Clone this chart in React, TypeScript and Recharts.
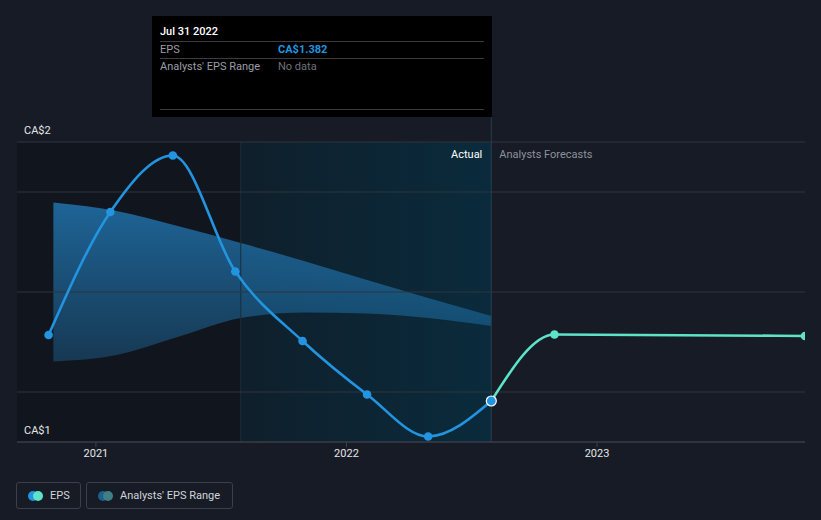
import { ComposedChart, Line, Area, XAxis, YAxis, ReferenceLine, ReferenceArea } from 'recharts'

// reported EPS (CA$)
const epsDates = ['2020-10-24', '2021-01-22', '2021-04-23', '2021-07-23', '2021-10-29', '2022-01-31', '2022-04-30', '2022-07-31']
const epsValues = [1.514, 1.76, 1.873, 1.641, 1.502, 1.395, 1.311, 1.382]

// analysts' forecast
const forecastDates = ['2022-07-31', '2022-10-31', '2023-10-31']
const forecastValues = [1.382, 1.515, 1.512]

// analysts' EPS range (past estimates)
const rangeDates = ['2020-10-31', '2021-01-31', '2021-04-30', '2021-07-31', '2021-10-31', '2022-01-31', '2022-04-30', '2022-07-31']
const rangeLow = [1.461, 1.474, 1.51, 1.548, 1.559, 1.557, 1.548, 1.532]
const rangeHigh = [1.779, 1.762, 1.732, 1.698, 1.662, 1.624, 1.588, 1.552]

const yearTicks = ['2021-01-01', '2022-01-01', '2023-01-01']
const gridValues = [1.4, 1.6, 1.8]
const yLabelValues = [1.3, 1.9]
const xDomain = ['2020-09-08', '2023-10-31']
const yDomain = [1.3, 1.9]
const actualStart = '2021-07-31'
const hoverDate = '2022-07-31'

const toTime = (s: string) => Date.parse(s)

const epsData = epsDates.map((d, i) => ({ t: toTime(d), eps: epsValues[i] }))
const forecastData = forecastDates.map((d, i) => ({ t: toTime(d), eps: forecastValues[i] }))
const rangeData = rangeDates.map((d, i) => ({ t: toTime(d), range: [rangeLow[i], rangeHigh[i]] }))

const BLUE = '#2394df'
const TEAL = '#5ee3c9'
const FONT = 'Roboto, "Open Sans", sans-serif'

const EpsDot = (props: any) => {
  const { cx, cy, index } = props
  if (cx == null || cy == null) return null
  const last = index === epsData.length - 1
  return (
    <circle
      key={`d-${index}`}
      cx={cx}
      cy={cy}
      r={last ? 5 : 4.3}
      fill={BLUE}
      stroke={last ? '#ffffff' : 'none'}
      strokeWidth={last ? 1.2 : 0}
    />
  )
}

const makeYLabel = (value: number) => (props: any) => {
  const vb = props.viewBox || { x: 0, y: 0 }
  return (
    <text x={vb.x + 7} y={vb.y - 8} fill="#e6e6e6" fontSize={11} fontFamily={FONT}>
      {`CA$${Math.round(value)}`}
    </text>
  )
}

const SplitLabel = (props: any) => {
  const vb = props.viewBox || { x: 0, y: 0 }
  return (
    <g fontFamily={FONT} fontSize={11}>
      <text x={vb.x - 9} y={vb.y + 16} textAnchor="end" fill="#ffffff">Actual</text>
      <text x={vb.x + 8} y={vb.y + 16} fill="#8d9299">Analysts Forecasts</text>
    </g>
  )
}

const CursorLine = (props: any) => {
  const top = Math.min(props.y1, props.y2)
  const bottom = Math.max(props.y1, props.y2)
  return <line x1={props.x1} x2={props.x2} y1={top - 25} y2={bottom} stroke="#263d4e" strokeWidth={1} />
}

const rowLabel = { width: 118, color: '#9a9ea4' }

export default function App() {
  return (
    <div style={{ position: 'relative', width: 821, height: 520, background: '#161b26', fontFamily: FONT, overflow: 'hidden' }}>
      <style>{'body{margin:0;}'}</style>
      <ComposedChart width={821} height={520} margin={{ top: 142, right: 16, bottom: 48, left: 17 }}>
        <defs>
          <linearGradient id="actualBg" x1="0" y1="0" x2="1" y2="0">
            <stop offset="0%" stopColor="#0f1f2b" />
            <stop offset="100%" stopColor="#0a2b3c" />
          </linearGradient>
          <linearGradient id="rangeFill" x1="0" y1="0" x2="0" y2="1">
            <stop offset="0%" stopColor="#2178b5" stopOpacity={0.8} />
            <stop offset="100%" stopColor="#2178b5" stopOpacity={0.35} />
          </linearGradient>
        </defs>
        <XAxis
          dataKey="t"
          type="number"
          scale="time"
          domain={xDomain.map(toTime)}
          ticks={yearTicks.map(toTime)}
          tickFormatter={(v: number) => String(new Date(v).getUTCFullYear())}
          allowDataOverflow
          height={30}
          stroke="#3d434c"
          tickSize={5}
          tick={{ fill: '#e6e6e6', fontSize: 11, fontFamily: FONT }}
        />
        <YAxis type="number" domain={yDomain} hide />
        <ReferenceArea x1={toTime(xDomain[0])} x2={toTime(actualStart)} fill="#11161e" fillOpacity={1} ifOverflow="visible" />
        <ReferenceArea x1={toTime(actualStart)} x2={toTime(hoverDate)} fill="url(#actualBg)" fillOpacity={1} ifOverflow="visible" />
        <ReferenceLine x={toTime(actualStart)} stroke="#1a2d3a" />
        {gridValues.map((v) => (
          <ReferenceLine key={v} y={v} stroke="#2e343e" />
        ))}
        {yLabelValues.map((v) => (
          <ReferenceLine key={`l-${v}`} y={v} stroke="#2e343e" ifOverflow="visible" label={makeYLabel(v)} />
        ))}
        <Area
          data={rangeData}
          dataKey="range"
          type="monotone"
          stroke="none"
          fill="url(#rangeFill)"
          fillOpacity={1}
          isAnimationActive={false}
          dot={false}
          activeDot={false}
        />
        <ReferenceLine x={toTime(hoverDate)} shape={<CursorLine />} label={<SplitLabel />} ifOverflow="visible" />
        <Line
          data={forecastData}
          dataKey="eps"
          type="monotone"
          stroke={TEAL}
          strokeWidth={2.6}
          dot={{ r: 4.3, fill: TEAL, stroke: 'none' }}
          activeDot={false}
          isAnimationActive={false}
        />
        <Line
          data={epsData}
          dataKey="eps"
          type="monotone"
          stroke={BLUE}
          strokeWidth={2.6}
          dot={<EpsDot />}
          activeDot={false}
          isAnimationActive={false}
        />
      </ComposedChart>

      {/* hover tooltip */}
      <div style={{ position: 'absolute', left: 152, top: 16, width: 340, height: 101, background: '#000', boxSizing: 'border-box', padding: '0 8px', fontSize: 11 }}>
        <div style={{ paddingTop: 9, height: 16, lineHeight: '14px', color: '#fff', fontWeight: 500, borderBottom: '1px solid #3c3c3c' }}>Jul 31 2022</div>
        <div style={{ display: 'flex', height: 16, lineHeight: '16px', borderBottom: '1px solid #3c3c3c' }}>
          <span style={rowLabel}>EPS</span>
          <span style={{ color: BLUE, fontWeight: 700 }}>CA$1.382</span>
        </div>
        <div style={{ display: 'flex', height: 16, lineHeight: '16px' }}>
          <span style={rowLabel}>Analysts' EPS Range</span>
          <span style={{ color: '#6f7379' }}>No data</span>
        </div>
        <div style={{ height: 34, borderBottom: '1px solid #3c3c3c' }} />
      </div>

      {/* legend */}
      <div style={{ position: 'absolute', left: 16, top: 482, display: 'flex', gap: 5, fontSize: 11, color: '#d2d4d7' }}>
        <div style={{ display: 'flex', alignItems: 'center', height: 25, width: 63, border: '1px solid #3a4049', borderRadius: 3 }}>
          <span style={{ position: 'relative', width: 20, height: 10, marginLeft: 11 }}>
            <span style={{ position: 'absolute', left: 0, top: 0, width: 10, height: 10, borderRadius: 5, background: BLUE }} />
            <span style={{ position: 'absolute', left: 5, top: 0, width: 10, height: 10, borderRadius: 5, background: TEAL }} />
          </span>
          <span style={{ marginLeft: 2 }}>EPS</span>
        </div>
        <div style={{ display: 'flex', alignItems: 'center', height: 25, width: 145, border: '1px solid #3a4049', borderRadius: 3 }}>
          <span style={{ position: 'relative', width: 20, height: 10, marginLeft: 11 }}>
            <span style={{ position: 'absolute', left: 0, top: 0, width: 10, height: 10, borderRadius: 5, background: '#1f5f8b' }} />
            <span style={{ position: 'absolute', left: 5, top: 0, width: 10, height: 10, borderRadius: 5, background: '#3e8085' }} />
          </span>
          <span style={{ marginLeft: 2 }}>Analysts' EPS Range</span>
        </div>
      </div>
    </div>
  )
}
